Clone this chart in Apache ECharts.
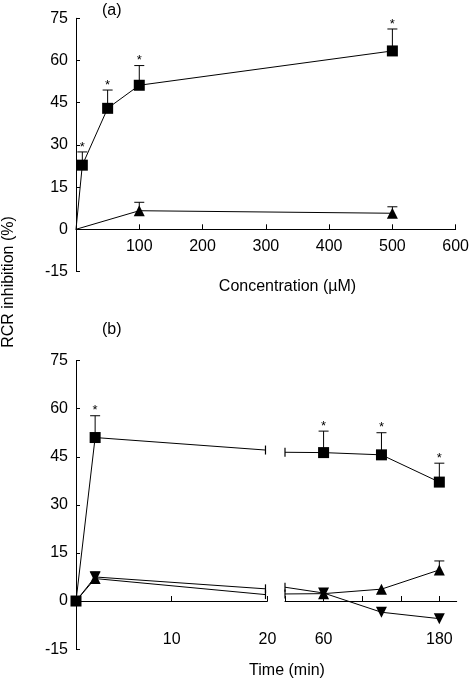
<!DOCTYPE html>
<html>
<head>
<meta charset="utf-8">
<script src="https://cdn.jsdelivr.net/npm/echarts@6/dist/echarts.min.js"></script>
<style>
html,body{margin:0;padding:0;background:#fff;}
#chart{width:472px;height:680px;}
</style>
</head>
<body>
<div id="chart"></div>
<script>
// ---- Panel (a): concentration ----
const concX = [0, 10, 50, 100, 500];
const concSquare = [0, 22.8, 43, 51.2, 63.4];
const concSquareErr = [0, 4.7, 6.5, 7.0, 7.8];
const concSquareStar = [false, true, true, true, true];
const concTriX = [0, 100, 500];
const concTri = [0, 6.6, 5.7];
const concTriErr = [0, 3.0, 2.3];
const concTicks = [100, 200, 300, 400, 500, 600];

// ---- Panel (b): time, early segment (0-20 min) ----
const earlyX = [0, 2, 19.8];
const earlySquare = [0, 51, 47.1];
const earlySquareErr = [0, 6.8, 0];
const earlySquareStar = [false, true, false];
const earlyTri = [0, 7.0, 2.0];
const earlyTriErr = [0, 2.1, 0];
const earlyInv = [0, 7.5, 3.8];
const earlyTicks = [10, 20];

// ---- Panel (b): time, late segment (20-180 min) ----
const lateX = [20, 60, 120, 180];
const lateSquare = [46.4, 46.3, 45.6, 37.1];
const lateSquareErr = [0, 6.7, 6.9, 5.9];
const lateSquareStar = [false, true, true, true];
const lateTri = [2.2, 2.3, 3.7, 9.7];
const lateTriErr = [0, 0, 0, 2.8];
const lateInv = [4.3, 2.5, -3.5, -5.5];
const lateTickVals = [20, 60, 100, 140, 180];
const lateLabelVals = [60, 180];

const FONT = '"Liberation Sans", Arial, Helvetica, sans-serif';
const BLACK = '#000';

function lineData(xs, ys, opts) {
  return xs.map((x, i) => {
    const d = { value: [x, ys[i]] };
    if (opts.hideFirst && i === 0) d.symbol = 'none';
    if ((opts.capLast && i === xs.length - 1) || (opts.capFirst && i === 0)) {
      d.symbol = 'rect';
      d.symbolSize = [1.2, 9];
      d.symbolRotate = 0;
    }
    return d;
  });
}

function errData(xs, ys, errs, stars) {
  const out = [];
  xs.forEach((x, i) => {
    if (errs[i] > 0 || (stars && stars[i])) out.push([x, ys[i], errs[i], stars && stars[i] ? 1 : 0]);
  });
  return out;
}

function errRender(params, api) {
  const x = api.value(0), y = api.value(1), e = api.value(2), s = api.value(3);
  const p0 = api.coord([x, y]);
  const p1 = api.coord([x, y + e]);
  const children = [];
  if (e > 0) {
    children.push({ type: 'line', shape: { x1: p0[0], y1: p0[1], x2: p1[0], y2: p1[1] }, style: { stroke: BLACK, lineWidth: 1 } });
    children.push({ type: 'line', shape: { x1: p1[0] - 5, y1: p1[1], x2: p1[0] + 5, y2: p1[1] }, style: { stroke: BLACK, lineWidth: 1 } });
  }
  if (s) {
    children.push({ type: 'text', style: { text: '*', x: p1[0], y: p1[1] - 5, textAlign: 'center', textVerticalAlign: 'middle', font: '13px ' + FONT, fill: BLACK } });
  }
  return { type: 'group', children: children };
}

function lineSeries(xi, yi, data, symbol, rotate) {
  return {
    type: 'line', xAxisIndex: xi, yAxisIndex: yi, data: data,
    symbol: symbol, symbolSize: 11, symbolRotate: rotate || 0, showSymbol: true,
    lineStyle: { color: BLACK, width: 1 }, itemStyle: { color: BLACK },
    z: 3, animation: false, silent: true
  };
}
function errSeries(xi, yi, data) {
  return {
    type: 'custom', xAxisIndex: xi, yAxisIndex: yi, data: data,
    encode: { x: 0, y: 1 }, renderItem: errRender, z: 2, animation: false, silent: true
  };
}

const axisLineStyle = { show: true, onZero: true, lineStyle: { color: BLACK, width: 1 } };
const labelStyle = { color: BLACK, fontSize: 16, fontFamily: FONT };

function yAxisDef(gi, show) {
  return {
    type: 'value', gridIndex: gi, min: -15, max: 75, interval: 15, show: show,
    axisLine: { show: true, onZero: false, lineStyle: { color: BLACK, width: 1 } },
    axisTick: { show: true, inside: true, length: 4, lineStyle: { color: BLACK } },
    axisLabel: { show: true, margin: 8, ...labelStyle },
    splitLine: { show: false }
  };
}

const option = {
  backgroundColor: '#fff',
  animation: false,
  grid: [
    { left: 76, top: 18.3, width: 381.3, height: 253.2 },
    { left: 76, top: 360.6, width: 191.4, height: 288.5 },
    { left: 285, top: 360.6, width: 171.7, height: 288.5 }
  ],
  xAxis: [
    {
      type: 'value', gridIndex: 0, min: 0, max: 600,
      axisLine: axisLineStyle,
      axisTick: { show: true, inside: true, length: 5, customValues: concTicks, lineStyle: { color: BLACK } },
      axisLabel: { margin: -33, customValues: concTicks, ...labelStyle },
      splitLine: { show: false }
    },
    {
      type: 'value', gridIndex: 1, min: 0, max: 20,
      axisLine: axisLineStyle,
      axisTick: { show: true, inside: true, length: 5, customValues: earlyTicks, lineStyle: { color: BLACK } },
      axisLabel: { margin: -18, customValues: earlyTicks, ...labelStyle },
      splitLine: { show: false }
    },
    {
      type: 'value', gridIndex: 2, min: 20, max: 198,
      axisLine: axisLineStyle,
      axisTick: { show: true, inside: true, length: 5, customValues: lateTickVals, lineStyle: { color: BLACK } },
      axisLabel: { margin: -18, customValues: lateLabelVals, ...labelStyle },
      splitLine: { show: false }
    }
  ],
  yAxis: [yAxisDef(0, true), yAxisDef(1, true), yAxisDef(2, false)],
  graphic: [
    { type: 'text', left: 102, top: 3, style: { text: '(a)', font: '16px ' + FONT, fill: BLACK } },
    { type: 'text', left: 102, top: 322, style: { text: '(b)', font: '16px ' + FONT, fill: BLACK } },
    { type: 'text', x: 287.5, y: 287, style: { text: 'Concentration (\u00b5M)', font: '16px ' + FONT, fill: BLACK, textAlign: 'center', textVerticalAlign: 'middle' } },
    { type: 'text', x: 287, y: 671, style: { text: 'Time (min)', font: '16px ' + FONT, fill: BLACK, textAlign: 'center', textVerticalAlign: 'middle' } },
    { type: 'text', x: 9, y: 282, rotation: Math.PI / 2, style: { text: 'RCR inhibition (%)', font: '16px ' + FONT, fill: BLACK, textAlign: 'center', textVerticalAlign: 'middle' } }
  ],
  series: [
    errSeries(0, 0, errData(concX, concSquare, concSquareErr, concSquareStar)),
    errSeries(0, 0, errData(concTriX, concTri, concTriErr, null)),
    lineSeries(0, 0, lineData(concX, concSquare, { hideFirst: true }), 'rect'),
    lineSeries(0, 0, lineData(concTriX, concTri, { hideFirst: true }), 'triangle'),
    errSeries(1, 1, errData(earlyX, earlySquare, earlySquareErr, earlySquareStar)),
    errSeries(1, 1, errData(earlyX, earlyTri, earlyTriErr, null)),
    lineSeries(1, 1, lineData(earlyX, earlyInv, { hideFirst: true, capLast: true }), 'triangle', 180),
    lineSeries(1, 1, lineData(earlyX, earlyTri, { hideFirst: true, capLast: true }), 'triangle'),
    lineSeries(1, 1, lineData(earlyX, earlySquare, { capLast: true }), 'rect'),
    errSeries(2, 2, errData(lateX, lateSquare, lateSquareErr, lateSquareStar)),
    errSeries(2, 2, errData(lateX, lateTri, lateTriErr, null)),
    lineSeries(2, 2, lineData(lateX, lateInv, { capFirst: true }), 'triangle', 180),
    lineSeries(2, 2, lineData(lateX, lateTri, { capFirst: true }), 'triangle'),
    lineSeries(2, 2, lineData(lateX, lateSquare, { capFirst: true }), 'rect')
  ]
};

const chart = echarts.init(document.getElementById('chart'), null, { renderer: 'canvas' });
chart.setOption(option);
</script>
</body>
</html>
